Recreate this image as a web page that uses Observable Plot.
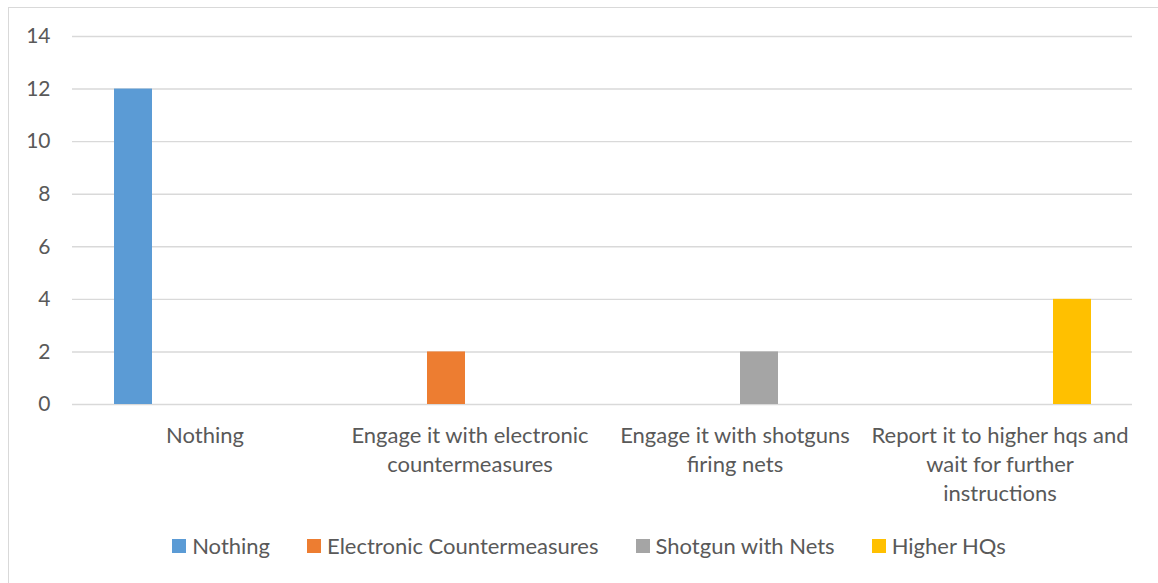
<!DOCTYPE html>
<html>
<head>
<meta charset="utf-8">
<script src="https://cdn.jsdelivr.net/npm/d3@7"></script>
<script src="https://cdn.jsdelivr.net/npm/@observablehq/plot@0.6"></script>
<style>
  html, body { margin: 0; padding: 0; background: #fff; }
  body { width: 1158px; height: 583px; overflow: hidden; position: relative; font-family: Lato, "Open Sans", sans-serif; }
  #frame { position: absolute; left: 8px; top: 7px; width: 1160px; height: 590px; border-left: 1px solid #d9d9d9; border-top: 1px solid #d9d9d9; }
  #chart { position: absolute; left: 0; top: 0; }
  #legend { position: absolute; left: 10px; top: 532px; width: 1158px; display: flex; justify-content: center; gap: 37px; color: #595959; font-size: 22px; }
  .item { display: flex; align-items: center; gap: 6px; line-height: 28px; }
  .sw { width: 14px; height: 14px; display: inline-block; }
</style>
</head>
<body>
<div id="frame"></div>
<div id="chart"></div>
<div id="legend"></div>
<script>
// Answer categories and the wrapped lines shown under each group
const categories = [
  "Nothing",
  "Engage it with electronic countermeasures",
  "Engage it with shotguns firing nets",
  "Report it to higher hqs and wait for further instructions"
];
const categoryLabels = [
  "Nothing",
  "Engage it with electronic\ncountermeasures",
  "Engage it with shotguns\nfiring nets",
  "Report it to higher hqs and\nwait for further\ninstructions"
];

// Series (one per response type) and their colours
const series = ["Nothing", "Electronic Countermeasures", "Shotgun with Nets", "Higher HQs"];
const colors = ["#5B9BD5", "#ED7D31", "#A5A5A5", "#FFC000"];

// Counts per series, one value per category
const nothingValues    = [12, 0, 0, 0];
const electronicValues = [0, 2, 0, 0];
const shotgunValues    = [0, 0, 2, 0];
const higherValues     = [0, 0, 0, 4];

const yTicks = [0, 2, 4, 6, 8, 10, 12, 14];

const seriesValues = [nothingValues, electronicValues, shotgunValues, higherValues];
const rows = [];
series.forEach((s, si) => {
  categories.forEach((c, ci) => {
    rows.push({category: c, series: s, value: seriesValues[si][ci]});
  });
});
const labelRows = categories.map((c, i) => ({category: c, label: categoryLabels[i]}));

const chart = Plot.plot({
  width: 1158,
  height: 510,
  marginLeft: 71,
  marginRight: 26,
  marginTop: 36,
  marginBottom: 106,
  style: {fontFamily: "Lato, 'Open Sans', sans-serif", fontSize: "21px", color: "#595959", background: "transparent"},
  fx: {domain: categories, padding: 0, axis: null},
  x: {domain: series, paddingInner: 0.21, paddingOuter: 0.865, axis: null},
  y: {domain: [0, 14], ticks: yTicks, axis: null},
  color: {domain: series, range: colors},
  marks: [
    Plot.ruleY(yTicks, {stroke: "#d9d9d9", strokeWidth: 1.4}),
    Plot.axisY({ticks: yTicks, tickSize: 0, tickPadding: 22, fontSize: 21, fill: "#595959", anchor: "left", label: null}),
    Plot.barY(rows.filter(d => d.value > 0), {fx: "category", x: "series", y: "value", fill: "series"}),
    Plot.text(labelRows, {fx: "category", text: "label", frameAnchor: "bottom", lineAnchor: "top", dy: 18, lineHeight: 1.32, fontSize: 22, fill: "#595959"})
  ]
});
document.getElementById("chart").appendChild(chart);

// Legend below the plot
const legend = document.getElementById("legend");
series.forEach((s, i) => {
  const item = document.createElement("div");
  item.className = "item";
  const sw = document.createElement("span");
  sw.className = "sw";
  sw.style.background = colors[i];
  const t = document.createElement("span");
  t.textContent = s;
  item.appendChild(sw);
  item.appendChild(t);
  legend.appendChild(item);
});
</script>
</body>
</html>
